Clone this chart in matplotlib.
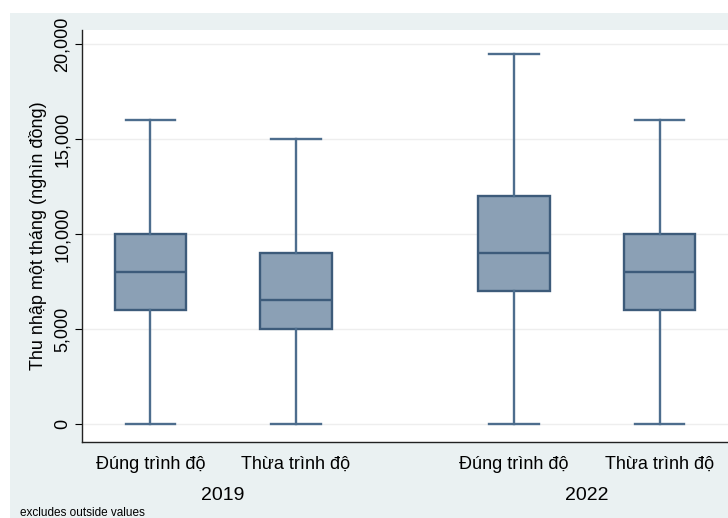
import matplotlib.pyplot as plt
from matplotlib.patches import Rectangle

# Du lieu doc tu hinh (nghin dong)
nhom = ["Đúng trình độ", "Thừa trình độ", "Đúng trình độ", "Thừa trình độ"]
nam = ["2019", "2022"]
vi_tri = [1, 2, 3.5, 4.5]
whis_thap = [0, 0, 0, 0]
q1 = [6000, 5000, 7000, 6000]
trung_vi = [8000, 6500, 9000, 8000]
q3 = [10000, 9000, 12000, 10000]
whis_cao = [16000, 15000, 19500, 16000]

plt.rcParams['font.family'] = ['Liberation Sans', 'DejaVu Sans']

nen = "#eaf1f2"
fig = plt.figure(figsize=(7.28, 5.18), dpi=100, facecolor=nen)
# dai trang phia tren (le trang tai lieu)
fig.patches.append(Rectangle((0, 1 - 13 / 518), 1, 13 / 518, transform=fig.transFigure,
                             facecolor="white", edgecolor="none", zorder=0))
fig.patches.append(Rectangle((0, 0), 10 / 728, 1, transform=fig.transFigure,
                             facecolor="white", edgecolor="none", zorder=0))

ax = fig.add_axes([82 / 728, 1 - 442 / 518, 1 - 82 / 728, (442 - 30) / 518])
ax.set_facecolor("white")

stats = []
for i in range(len(nhom)):
    stats.append(dict(whislo=whis_thap[i], q1=q1[i], med=trung_vi[i], q3=q3[i],
                      whishi=whis_cao[i], fliers=[]))

mau_vien = "#3d5b7a"
ax.bxp(stats, positions=vi_tri, widths=0.49, capwidths=0.34, patch_artist=True,
       showfliers=False,
       boxprops=dict(facecolor="#8ba0b5", edgecolor=mau_vien, linewidth=1.7),
       medianprops=dict(color=mau_vien, linewidth=1.7),
       whiskerprops=dict(color="#4d6d8d", linewidth=1.7),
       capprops=dict(color="#4d6d8d", linewidth=1.7))

ax.set_xlim(0.53, 4.97)
ax.set_ylim(-950, 20740)
ax.set_yticks([0, 5000, 10000, 15000, 20000])
ax.set_yticklabels(["0", "5,000", "10,000", "15,000", "20,000"], rotation=90,
                   va="center", fontsize=13)
ax.yaxis.grid(True, color="#eeeeee", linewidth=1)
ax.set_axisbelow(True)
ax.tick_params(axis="y", length=5, width=0.8, pad=3)
ax.set_xticks(vi_tri)
ax.set_xticklabels(nhom, fontsize=13)
ax.tick_params(axis="x", length=0, pad=10)
for s in ["top", "right"]:
    ax.spines[s].set_visible(False)
for s in ["left", "bottom"]:
    ax.spines[s].set_linewidth(1)
    ax.spines[s].set_color("#222222")

ax.set_ylabel("Thu nhập một tháng (nghìn đồng)", fontsize=13, labelpad=5)

# nhan nam
for j, ten in enumerate(nam):
    x_giua = (vi_tri[2 * j] + vi_tri[2 * j + 1]) / 2
    ax.annotate(ten, xy=(x_giua, 0), xycoords=("data", "axes fraction"),
                xytext=(0, -53), textcoords="offset pixels",
                ha="center", va="center", fontsize=14)

fig.text(20 / 728, 1 - 513 / 518, "excludes outside values", fontsize=8.5,
         ha="left", va="center")

fig.savefig("out.png", dpi=100, facecolor=fig.get_facecolor())
